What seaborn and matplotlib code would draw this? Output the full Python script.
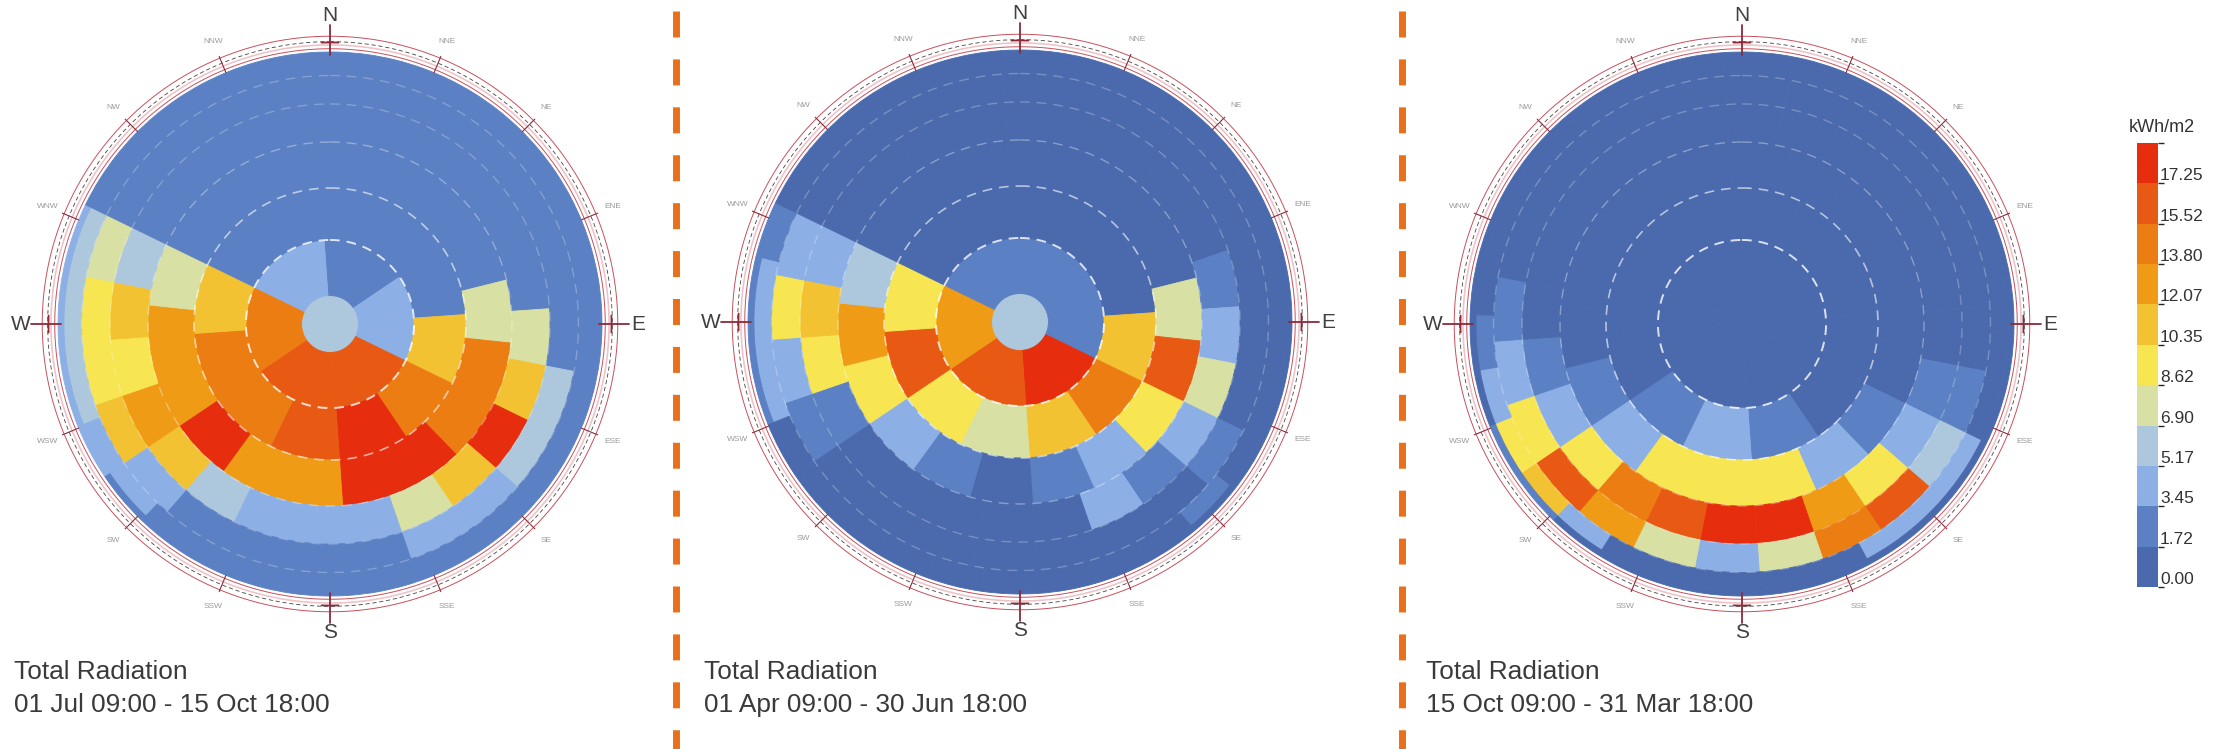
import numpy as np
import matplotlib
matplotlib.use("Agg")
import matplotlib.pyplot as plt
import seaborn as sns
from matplotlib.colors import ListedColormap, BoundaryNorm
from matplotlib.lines import Line2D
from matplotlib.cm import ScalarMappable

sns.set_theme(style="white")
plt.rcParams["font.family"] = ["Liberation Sans", "DejaVu Sans"]
plt.rcParams["lines.scale_dashes"] = False

# Tregenza sky patches: band edges (altitude, deg) from zenith outward and patches per band
band_alt = [90, 84, 72, 60, 48, 36, 24, 12, 0]
patch_counts = [1, 6, 12, 18, 24, 24, 30, 30]
az_start = -4  # azimuth of the first patch edge in every band

legend_bounds = [0.00, 1.72, 3.45, 5.17, 6.90, 8.62, 10.35, 12.07, 13.80, 15.52, 17.25, 18.97]
legend_colors = ["#4a6aad", "#5b80c3", "#8cb0e6", "#adc8dc", "#d8e0a3", "#f7e552",
                 "#f3c232", "#ef9b15", "#ec7d13", "#e85a13", "#e62e0f"]

directions = ["N", "NNE", "NE", "ENE", "E", "ESE", "SE", "SSE",
              "S", "SSW", "SW", "WSW", "W", "WNW", "NW", "NNW"]

titles = ["01 Jul 09:00 - 15 Oct 18:00", "01 Apr 09:00 - 30 Jun 18:00", "15 Oct 09:00 - 31 Mar 18:00"]

# kWh/m2 per patch, each band listed clockwise from az_start
jul_oct_r0 = [6.0]
jul_oct_r1 = [2.6, 4.3, 16.0, 16.8, 14.6, 4.3]
jul_oct_r2 = [2.4, 2.4, 2.6, 11.0, 14.0, 18.1, 16.4, 14.0, 14.8, 10.8, 2.6, 2.4]
jul_oct_r3 = [2.4, 2.4, 2.4, 2.6, 7.8, 14.0, 14.6, 18.1, 17.8, 12.9, 13.5, 18.1, 13.2, 13.0, 7.5, 2.6, 2.6, 2.4]
jul_oct_r4 = [2.4, 2.4, 2.4, 2.4, 2.6, 3.0, 7.2, 11.2, 18.0, 11.5, 7.3, 4.3, 4.3, 4.5, 6.0, 11.5,
              12.5, 10.2, 11.8, 6.0, 2.6, 2.4, 2.4, 2.4]
jul_oct_r5 = [2.4, 2.4, 2.4, 2.4, 2.5, 3.0, 3.0, 6.0, 6.0, 4.8, 4.0, 3.2, 2.8, 2.8, 2.8, 4.3,
              11.0, 9.5, 9.3, 7.8, 2.8, 2.6, 2.4, 2.4]
jul_oct_r6 = [2.2, 2.2, 2.2, 2.2, 2.2, 2.4, 2.6, 2.8, 3.0, 3.2, 3.0, 3.2, 3.0, 2.8, 2.6,
              2.6, 2.6, 2.5, 2.8, 3.8, 4.3, 5.5, 5.8, 5.5, 6.0, 2.6, 2.4, 2.4, 2.4, 2.2]
jul_oct_r7 = [2.0, 2.0, 2.0, 2.0, 2.0, 2.0, 2.0, 2.0, 2.2, 2.2, 2.4, 2.6, 2.4, 2.2, 2.0,
              2.0, 2.0, 2.0, 2.2, 2.6, 3.6, 4.0, 4.2, 4.0, 4.2, 2.2, 2.0, 2.0, 2.0, 2.0]

apr_jun_r0 = [6.0]
apr_jun_r1 = [2.2, 3.0, 18.3, 16.3, 13.6, 3.3]
apr_jun_r2 = [1.0, 1.0, 1.1, 12.0, 14.2, 10.5, 7.8, 9.5, 16.0, 9.6, 1.2, 1.0]
apr_jun_r3 = [0.9, 0.9, 0.9, 1.0, 8.3, 16.0, 9.5, 3.7, 1.8, 1.5, 1.8, 3.8, 9.4, 13.5, 6.0, 1.0, 0.9, 0.9]
apr_jun_r4 = [0.9, 0.9, 0.9, 0.9, 1.0, 2.4, 4.5, 8.3, 3.6, 2.0, 3.7, 1.2, 1.2, 1.2, 1.3, 1.5,
              2.4, 9.5, 12.0, 5.0, 1.0, 0.9, 0.9, 0.9]
apr_jun_r5 = [0.9, 0.9, 0.9, 0.9, 0.9, 1.2, 1.2, 1.0, 3.0, 1.5, 1.0, 0.9, 0.9, 0.9, 0.9, 1.0,
              2.0, 4.3, 9.5, 4.5, 1.0, 0.9, 0.9, 0.9]
apr_jun_r6 = [0.9, 0.9, 0.9, 0.9, 0.9, 0.9, 1.2, 1.2, 1.0, 0.9, 1.0, 2.5, 1.5, 0.9, 0.9,
              0.9, 0.9, 0.9, 0.9, 0.9, 1.5, 4.0, 4.0, 4.0, 3.0, 1.0, 0.9, 0.9, 0.9, 0.9]
apr_jun_r7 = [0.8, 0.8, 0.8, 0.8, 0.8, 0.8, 0.8, 0.8, 0.8, 0.8, 0.8, 0.8, 0.8, 0.8, 0.8,
              0.8, 0.8, 0.8, 0.8, 0.8, 1.0, 2.5, 3.0, 3.0, 2.5, 1.0, 0.8, 0.8, 0.8, 0.8]

oct_mar_r0 = [0.5]
oct_mar_r1 = [0.6, 0.6, 0.7, 0.8, 0.7, 0.6]
oct_mar_r2 = [0.6, 0.6, 0.7, 0.9, 1.5, 2.3, 3.8, 2.4, 1.2, 0.8, 0.6, 0.6]
oct_mar_r3 = [0.5, 0.5, 0.6, 0.7, 0.9, 1.5, 2.3, 4.3, 9.5, 9.6, 9.5, 4.4, 2.6, 1.6, 0.9, 0.7, 0.6, 0.5]
oct_mar_r4 = [0.6, 0.6, 0.6, 0.7, 0.8, 1.0, 1.3, 2.4, 4.3, 9.5, 13.5, 18.3, 18.0, 16.5, 14.0, 9.5,
              4.3, 2.4, 1.2, 0.9, 0.6, 0.6, 0.6, 0.6]
oct_mar_r5 = [0.6, 0.6, 0.6, 0.7, 0.8, 1.0, 1.2, 1.8, 6.0, 16.5, 13.8, 7.5, 4.8, 7.3, 13.5, 16.0,
              9.5, 4.3, 2.4, 1.2, 0.6, 0.6, 0.6, 0.6]
oct_mar_r6 = [0.6, 0.6, 0.6, 0.6, 0.6, 0.6, 0.6, 0.6, 0.8, 1.5, 4.5, 4.0, 4.3, 1.0, 0.8,
              0.8, 0.8, 0.8, 4.3, 11.5, 9.5, 4.3, 2.4, 1.5, 0.6, 0.6, 0.6, 0.6, 0.6, 0.6]
oct_mar_r7 = [0.6, 0.6, 0.6, 0.6, 0.6, 0.6, 0.6, 0.6, 0.6, 0.6, 0.6, 0.6, 0.6, 0.6, 0.6,
              0.6, 0.6, 0.6, 0.6, 2.0, 2.0, 1.2, 0.6, 0.6, 0.6, 0.6, 0.6, 0.6, 0.6, 0.6]

domes = [
    [jul_oct_r0, jul_oct_r1, jul_oct_r2, jul_oct_r3, jul_oct_r4, jul_oct_r5, jul_oct_r6, jul_oct_r7],
    [apr_jun_r0, apr_jun_r1, apr_jun_r2, apr_jun_r3, apr_jun_r4, apr_jun_r5, apr_jun_r6, apr_jun_r7],
    [oct_mar_r0, oct_mar_r1, oct_mar_r2, oct_mar_r3, oct_mar_r4, oct_mar_r5, oct_mar_r6, oct_mar_r7],
]

cmap = ListedColormap(sns.color_palette(legend_colors))
norm = BoundaryNorm(legend_bounds, cmap.N)

W, H = 2238, 749
R_PX = 272
RMAX = 1.2
centers = [(330, 324), (1020, 322), (1742, 324)]
text_x = [14, 704, 1426]

fig = plt.figure(figsize=(W / 100, H / 100), dpi=100)


def draw_dome(ax, rings):
    for i, vals in enumerate(rings):
        n = patch_counts[i]
        r_in = np.cos(np.radians(band_alt[i]))
        r_out = np.cos(np.radians(band_alt[i + 1]))
        width = 2 * np.pi / n
        theta = np.radians(az_start) + width * (np.arange(n) + 0.5)
        colors = cmap(norm(np.asarray(vals)))
        ax.bar(theta, r_out - r_in, width=width, bottom=r_in, color=colors,
               edgecolor=colors, linewidth=0.6, align="center")

    t = np.linspace(0, 2 * np.pi, 721)
    # dashed altitude circles
    for r, a, lw in zip(np.cos(np.radians(band_alt[2:7])), [0.8, 0.6, 0.35, 0.25, 0.25],
                        [1.4, 1.2, 1.0, 1.0, 1.0]):
        ax.plot(t, np.full_like(t, r), color="white", alpha=a, lw=lw, ls=(0, (7, 5)))

    # compass ring
    ax.plot(t, np.full_like(t, 1.012), color="#c7505c", lw=0.7)
    ax.plot(t, np.full_like(t, 1.026), color="#efc4c8", lw=1.2)
    ax.plot(t, np.full_like(t, 1.038), color="#444444", lw=0.6, ls=(0, (3, 2)))
    ax.plot(t, np.full_like(t, 1.058), color="#c7505c", lw=0.7)
    for k, name in enumerate(directions):
        th = np.radians(22.5 * k)
        if k % 4 == 0:
            ax.plot([th, th], [0.99, 1.10], color="#8a2a3a", lw=1.3)
            arc = np.linspace(th - 0.03, th + 0.03, 10)
            ax.plot(arc, np.full_like(arc, 1.035), color="#8a2a3a", lw=1.3)
            ax.text(th, 1.135, name, fontsize=15, ha="center", va="center", color="#404040")
        else:
            ax.plot([th, th], [1.0, 1.065], color="#8a2a3a", lw=0.8)
            ax.text(th, 1.125, name, fontsize=6, ha="center", va="center", color="#9a9a9a")

    ax.set_theta_zero_location("N")
    ax.set_theta_direction(-1)
    ax.set_ylim(0, RMAX)
    ax.axis("off")


half = RMAX * R_PX
for (cx, cy), rings, tx, sub in zip(centers, domes, text_x, titles):
    ax = fig.add_axes([(cx - half) / W, (H - cy - half) / H, 2 * half / W, 2 * half / H],
                      projection="polar")
    draw_dome(ax, rings)
    fig.text(tx / W, 1 - 672 / H, "Total Radiation", fontsize=18.9, va="center",
             ha="left", color="#3a3a3a")
    fig.text(tx / W, 1 - 705 / H, sub, fontsize=18.9, va="center", ha="left", color="#3a3a3a")

# orange dashed separators
for x in [676, 1402]:
    fig.add_artist(Line2D([x / W, x / W], [1 - 11 / H, 0], transform=fig.transFigure,
                          color="#e8701a", lw=5, ls=(0, (18.7, 15.8))))

# legend
cax = fig.add_axes([2137 / W, 1 - 587 / H, 21 / W, 444 / H])
cbar = fig.colorbar(ScalarMappable(norm=norm, cmap=cmap), cax=cax, ticks=[])
cbar.outline.set_visible(False)
cax.tick_params(length=0)
for b in legend_bounds[:-1]:
    cax.text(1.1, b, f"{b:.2f}", transform=cax.get_yaxis_transform(), fontsize=12.5,
             va="bottom", ha="left", color="#333333")
fig.text(2162 / W, 1 - 128 / H, "kWh/m2", fontsize=13, ha="center", va="center", color="#333333")

fig.savefig("out.png", dpi=100)
